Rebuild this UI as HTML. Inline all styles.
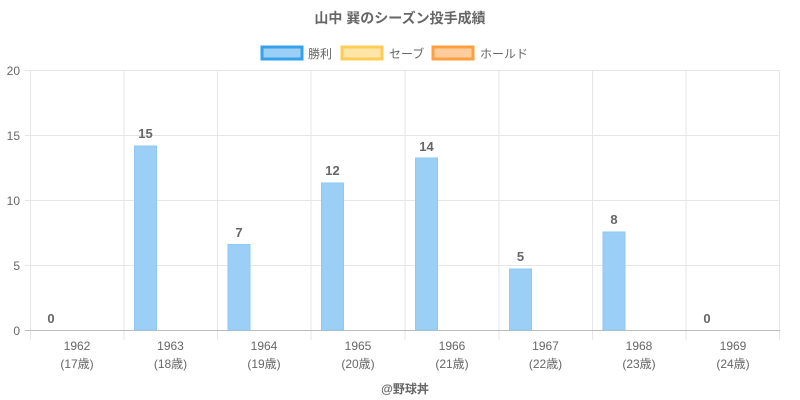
<!DOCTYPE html><html><head><meta charset="utf-8"><style>body{margin:0;background:#fff}svg{display:block}text{font-family:"Liberation Sans","Noto Sans CJK JP",sans-serif}</style></head><body>
<svg width="800" height="400" xmlns="http://www.w3.org/2000/svg">
<text x="400" y="23" text-anchor="middle" font-size="14" font-weight="bold" fill="#666">山中 巽のシーズン投手成績</text>
<rect x="262" y="47" width="40" height="12" fill="#9ccff5" stroke="#36a2eb" stroke-width="3"/>
<text x="308" y="58" font-size="12" fill="#666">勝利</text>
<rect x="342" y="47" width="40" height="12" fill="#ffe6a8" stroke="#ffcd56" stroke-width="3"/>
<text x="389" y="58" font-size="12" fill="#666">セーブ</text>
<rect x="433" y="47" width="40" height="12" fill="#ffcc9e" stroke="#ff9f40" stroke-width="3"/>
<text x="480" y="58" font-size="12" fill="#666">ホールド</text>
<g stroke="#e6e6e6" stroke-width="1">
<line x1="30" y1="70.5" x2="780" y2="70.5"/><line x1="30" y1="135.5" x2="780" y2="135.5"/><line x1="30" y1="200.5" x2="780" y2="200.5"/><line x1="30" y1="265.5" x2="780" y2="265.5"/>
<line x1="30.5" y1="70" x2="30.5" y2="340"/><line x1="124" y1="70" x2="124" y2="340"/><line x1="217.5" y1="70" x2="217.5" y2="340"/><line x1="311" y1="70" x2="311" y2="340"/><line x1="405" y1="70" x2="405" y2="340"/><line x1="499" y1="70" x2="499" y2="340"/><line x1="592.5" y1="70" x2="592.5" y2="340"/><line x1="686" y1="70" x2="686" y2="340"/><line x1="779.5" y1="70" x2="779.5" y2="340"/>
<line x1="25" y1="70.5" x2="30" y2="70.5"/><line x1="25" y1="135.5" x2="30" y2="135.5"/><line x1="25" y1="200.5" x2="30" y2="200.5"/><line x1="25" y1="265.5" x2="30" y2="265.5"/>
</g>
<line x1="25" y1="330.5" x2="780" y2="330.5" stroke="#bbb"/>
<g font-size="12" fill="#666" text-anchor="end"><text x="20" y="75">20</text><text x="20" y="140">15</text><text x="20" y="205">10</text><text x="20" y="270">5</text><text x="20" y="335">0</text></g>
<g fill="#9ccff5" stroke="#8ec8f3"><rect x="134.5" y="146" width="22" height="184"/><rect x="228" y="244.5" width="22" height="85.5"/><rect x="321.5" y="183" width="22" height="147"/><rect x="415.5" y="158" width="22" height="172"/><rect x="509.5" y="269" width="22" height="61"/><rect x="603" y="232" width="22" height="98"/></g>
<g font-size="13" font-weight="bold" fill="#666" text-anchor="middle"><text x="51" y="323">0</text><text x="145.5" y="138">15</text><text x="239" y="237">7</text><text x="332.5" y="175">12</text><text x="426.5" y="151">14</text><text x="520.5" y="261">5</text><text x="614" y="224">8</text><text x="707" y="323">0</text></g>
<g font-size="12" fill="#666" text-anchor="middle">
<text x="77" y="350">1962</text><text x="77" y="368">(17歳)</text>
<text x="170.5" y="350">1963</text><text x="170.5" y="368">(18歳)</text>
<text x="264" y="350">1964</text><text x="264" y="368">(19歳)</text>
<text x="358" y="350">1965</text><text x="358" y="368">(20歳)</text>
<text x="452" y="350">1966</text><text x="452" y="368">(21歳)</text>
<text x="545.5" y="350">1967</text><text x="545.5" y="368">(22歳)</text>
<text x="639" y="350">1968</text><text x="639" y="368">(23歳)</text>
<text x="733" y="350">1969</text><text x="733" y="368">(24歳)</text>
</g>
<text x="405" y="393" text-anchor="middle" font-size="12" font-weight="bold" fill="#666">@野球丼</text>
</svg></body></html>
